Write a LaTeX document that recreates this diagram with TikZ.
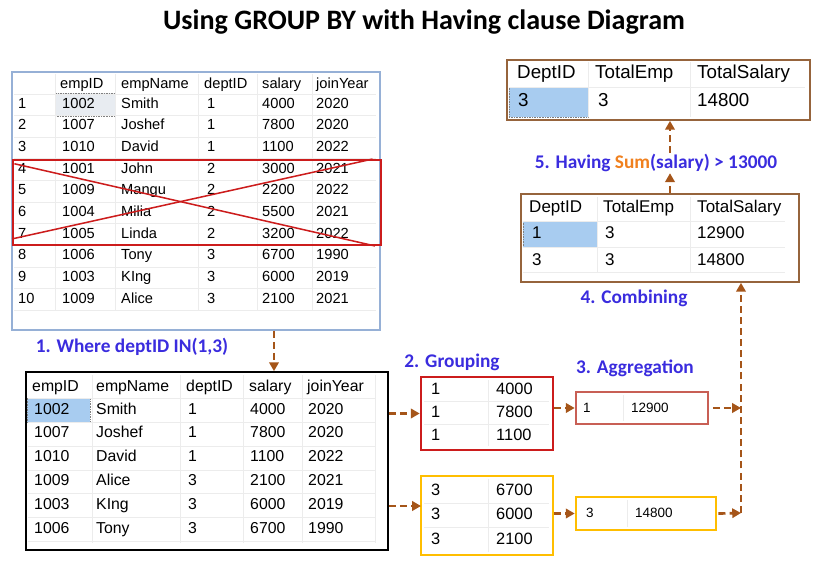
\documentclass[tikz,border=0pt]{standalone}
\usepackage{fontspec}
\setmainfont{Liberation Sans}
\newfontfamily\gblabelfont{Carlito}
\usetikzlibrary{arrows.meta,positioning,fit}
\definecolor{GbBlue}{RGB}{58,44,222}
\definecolor{GbOrange}{RGB}{240,128,30}
\definecolor{GbBrown}{RGB}{165,85,25}
\definecolor{GbRed}{RGB}{204,28,28}
\definecolor{GbAmber}{RGB}{255,190,0}
\definecolor{GbRose}{RGB}{200,95,85}
\definecolor{GbTan}{RGB}{150,100,60}
\definecolor{GbSky}{RGB}{150,176,214}
\definecolor{GbGrid}{RGB}{236,236,236}
\definecolor{GbHiBlue}{RGB}{168,204,240}
\definecolor{GbHiGray}{RGB}{232,236,241}
\tikzset{
  gb/frame/.style={
    draw,
    inner sep=0pt,
    fill=none
  },
  gb/cell/.style={
    anchor=west,
    inner sep=0pt,
    text height=1.6ex,
    text depth=.3ex
  },
  gb/hl/.style={
    draw=gray,
    densely dotted,
    fill=GbHiBlue,
    inner sep=0pt
  },
  gb/hlgray/.style={
    draw=gray,
    densely dotted,
    fill=GbHiGray,
    inner sep=0pt
  },
  gb/grid/.style={draw=GbGrid, line width=0.6pt},
  gb/arrow/.style={-{Triangle[length=7.5pt,width=8pt]}, line width=2.3pt, draw=GbBrown, dash pattern=on 6pt off 3.5pt},
  gb/label/.style={font=\gblabelfont\bfseries\fontsize{16.5}{19}\selectfont, text=GbBlue, inner sep=1pt},
  gb/title/.style={font=\gblabelfont\bfseries\fontsize{24}{28}\selectfont, text=black}
}

\begin{document}
\begin{tikzpicture}[x=0.03cm,y=-0.03cm]
  \useasboundingbox (0,0) rectangle (833,586);

  \node[gb/title] (title) at (424,22) {Using GROUP BY with Having clause Diagram};

  % source table
  \node[gb/hlgray, fit={(55,93) (115,116)}] (o-hl) {};
  \foreach \gx in {55,115,198,257,312}
    \draw[gb/grid] (\gx,74) -- (\gx,310);
  \foreach \gy in {94,115,137,158,180,202,223,245,267,288,310}
    \draw[gb/grid] (14,\gy) -- (376,\gy);
  \begin{scope}[font=\fontsize{12.5}{14}\selectfont]
    \foreach \hd/\hx in {empID/60, empName/121, deptID/204, salary/262, joinYear/316}
      \node[gb/cell] (o-h-\hx) at (\hx,84) {\hd};
    \foreach \rn/\id/\nm/\dep/\sal/\yr [count=\r] in {1/1002/Smith/1/4000/2020, 2/1007/Joshef/1/7800/2020, 3/1010/David/1/1100/2022, 4/1001/John/2/3000/2021, 5/1009/Mangu/2/2200/2022, 6/1004/Milia/2/5500/2021, 7/1005/Linda/2/3200/2022, 8/1006/Tony/3/6700/1990, 9/1003/KIng/3/6000/2019, 10/1009/Alice/3/2100/2021} {
      \pgfmathsetmacro\yy{104+(\r-1)*21.7}
      \node[gb/cell] (o-\r-a) at (18,\yy) {\rn};
      \node[gb/cell] (o-\r-b) at (62,\yy) {\id};
      \node[gb/cell] (o-\r-c) at (121,\yy) {\nm};
      \node[gb/cell] (o-\r-d) at (207,\yy) {\dep};
      \node[gb/cell] (o-\r-e) at (262,\yy) {\sal};
      \node[gb/cell] (o-\r-f) at (316,\yy) {\yr};
    }
  \end{scope}
  \node[gb/frame, draw=GbSky, line width=1.2pt, fit={(12,72) (380,330)}] (orig) {};
  \node[gb/frame, draw=GbRed, line width=1.6pt, fit={(13,160) (381,245)}] (drop) {};
  \draw[GbRed, line width=1.3pt] ([shift={(2pt,-4pt)}]drop.north west) -- ([shift={(-6pt,0pt)}]drop.south east);
  \draw[GbRed, line width=1.3pt] ([shift={(0pt,6pt)}]drop.south west) -- ([shift={(-8pt,0pt)}]drop.north east);

  \node[gb/label] (where) at (132,347) {1. Where deptID IN(1,3)};

  % filtered table
  \node[gb/hl, fit={(27,398) (90,422)}] (f-hl) {};
  \foreach \gx in {92,180,243,302,375}
    \draw[gb/grid] (\gx,375) -- (\gx,543);
  \foreach \gy in {398,422,446,470,493,517,541}
    \draw[gb/grid] (28,\gy) -- (375,\gy);
  \begin{scope}[font=\fontsize{13.5}{15}\selectfont]
    \foreach \hd/\hx in {empID/32, empName/96, deptID/186, salary/249, joinYear/307}
      \node[gb/cell] (f-h-\hx) at (\hx,387) {\hd};
    \foreach \id/\nm/\dep/\sal/\yr [count=\r] in {1002/Smith/1/4000/2020, 1007/Joshef/1/7800/2020, 1010/David/1/1100/2022, 1009/Alice/3/2100/2021, 1003/KIng/3/6000/2019, 1006/Tony/3/6700/1990} {
      \pgfmathsetmacro\yy{410+(\r-1)*23.8}
      \node[gb/cell] (f-\r-a) at (34,\yy) {\id};
      \node[gb/cell] (f-\r-b) at (96,\yy) {\nm};
      \node[gb/cell] (f-\r-c) at (188,\yy) {\dep};
      \node[gb/cell] (f-\r-d) at (250,\yy) {\sal};
      \node[gb/cell] (f-\r-e) at (308,\yy) {\yr};
    }
  \end{scope}
  \node[gb/frame, draw=black, line width=1.4pt, fit={(26,372) (388,550)}] (filt) {};

  % groups
  \node[gb/label] (grouping) at (452,362) {2. Grouping};
  \draw[gb/grid] (488,380) -- (488,446);
  \draw[gb/grid] (488,479) -- (488,552);
  \foreach \gy in {401,424,503,527}
    \draw[gb/grid] (424,\gy) -- (549,\gy);
  \begin{scope}[font=\fontsize{14}{16}\selectfont]
    \foreach \sal [count=\r] in {4000,7800,1100} {
      \pgfmathsetmacro\yy{390+(\r-1)*23}
      \node[gb/cell] (g1-\r-a) at (431,\yy) {1};
      \node[gb/cell] (g1-\r-b) at (496,\yy) {\sal};
    }
    \foreach \sal [count=\r] in {6700,6000,2100} {
      \pgfmathsetmacro\yy{491+(\r-1)*24.5}
      \node[gb/cell] (g2-\r-a) at (431,\yy) {3};
      \node[gb/cell] (g2-\r-b) at (496,\yy) {\sal};
    }
  \end{scope}
  \node[gb/frame, draw=GbRed, line width=2.2pt, fit={(421,377) (553,450)}] (g1) {};
  \node[gb/frame, draw=GbAmber, line width=2.2pt, fit={(421,476) (553,555)}] (g2) {};

  % aggregation
  \node[gb/label] (aggr) at (635,368) {3. Aggregation};
  \draw[gb/grid] (623,395) -- (623,421);
  \draw[gb/grid] (627,500) -- (627,527);
  \begin{scope}[font=\fontsize{11.5}{13}\selectfont]
    \node[gb/cell] (a1-a) at (583,408) {1};
    \node[gb/cell] (a1-b) at (631,408) {12900};
    \node[gb/cell] (a2-a) at (586,513) {3};
    \node[gb/cell] (a2-b) at (635,513) {14800};
  \end{scope}
  \node[gb/frame, draw=GbRose, line width=2.2pt, fit={(576,392) (708,424)}] (a1) {};
  \node[gb/frame, draw=GbAmber, line width=2.2pt, fit={(576,497) (716,530)}] (a2) {};

  % combined table
  \node[gb/hl, fit={(523,221) (597,247)}] (c-hl) {};
  \draw[gb/grid] (597,197) -- (597,272);
  \draw[gb/grid] (690,197) -- (690,272);
  \foreach \gy in {221,247,272}
    \draw[gb/grid] (523,\gy) -- (785,\gy);
  \begin{scope}[font=\fontsize{14.5}{16}\selectfont]
    \node[gb/cell] (c-h-a) at (529,208) {DeptID};
    \node[gb/cell] (c-h-b) at (603,208) {TotalEmp};
    \node[gb/cell] (c-h-c) at (697,208) {TotalSalary};
    \node[gb/cell] (c-1-a) at (532,234) {1};
    \node[gb/cell] (c-1-b) at (605,234) {3};
    \node[gb/cell] (c-1-c) at (697,234) {12900};
    \node[gb/cell] (c-2-a) at (532,261) {3};
    \node[gb/cell] (c-2-b) at (605,261) {3};
    \node[gb/cell] (c-2-c) at (697,261) {14800};
  \end{scope}
  \node[gb/frame, draw=GbTan, line width=1.4pt, fit={(521,194) (799,282)}] (comb) {};
  \node[gb/label] (combining) at (634,298) {4. Combining};

  % result table
  \node[gb/hl, fit={(509,87) (588,117)}] (r-hl) {};
  \draw[gb/grid] (588,62) -- (588,117);
  \draw[gb/grid] (690,62) -- (690,117);
  \draw[gb/grid] (509,87) -- (805,87);
  \begin{scope}[font=\fontsize{16}{18}\selectfont]
    \node[gb/cell] (r-h-a) at (517,74) {DeptID};
    \node[gb/cell] (r-h-b) at (595,74) {TotalEmp};
    \node[gb/cell] (r-h-c) at (697,74) {TotalSalary};
    \node[gb/cell] (r-1-a) at (518,102) {3};
    \node[gb/cell] (r-1-b) at (598,102) {3};
    \node[gb/cell] (r-1-c) at (697,102) {14800};
  \end{scope}
  \node[gb/frame, draw=GbTan, line width=1.4pt, fit={(507,60) (810,120)}] (fin) {};
  \node[gb/label] (having) at (656,163) {5. Having \textcolor{GbOrange}{Sum}(salary) > 13000};

  % connectors
  \coordinate (drop-x) at (274,0);
  \coordinate (g2-in) at (421,506);
  \coordinate (join) at (741,513);
  \coordinate (up-x) at (670,0);
  \draw[gb/arrow] (orig.south -| drop-x) -- (filt.north -| drop-x);
  \draw[gb/arrow] (filt.east |- g1.west) -- (g1.west);
  \draw[gb/arrow] (filt.east |- g2-in) -- (g2-in);
  \draw[gb/arrow] (g1.east |- a1.west) -- (a1.west);
  \draw[gb/arrow] (g2.east |- a2.west) -- (a2.west);
  \draw[gb/arrow] ([xshift=3pt]a1.east) -- (a1.east -| join);
  \draw[gb/arrow] ([xshift=1pt]a2.east) -- (join);
  \draw[gb/arrow] (join) -- (join |- comb.south);
  \draw[gb/arrow] (comb.north -| up-x) -- (having.south -| up-x);
  \draw[gb/arrow] (having.north -| up-x) -- (fin.south -| up-x);
\end{tikzpicture}
\end{document}
